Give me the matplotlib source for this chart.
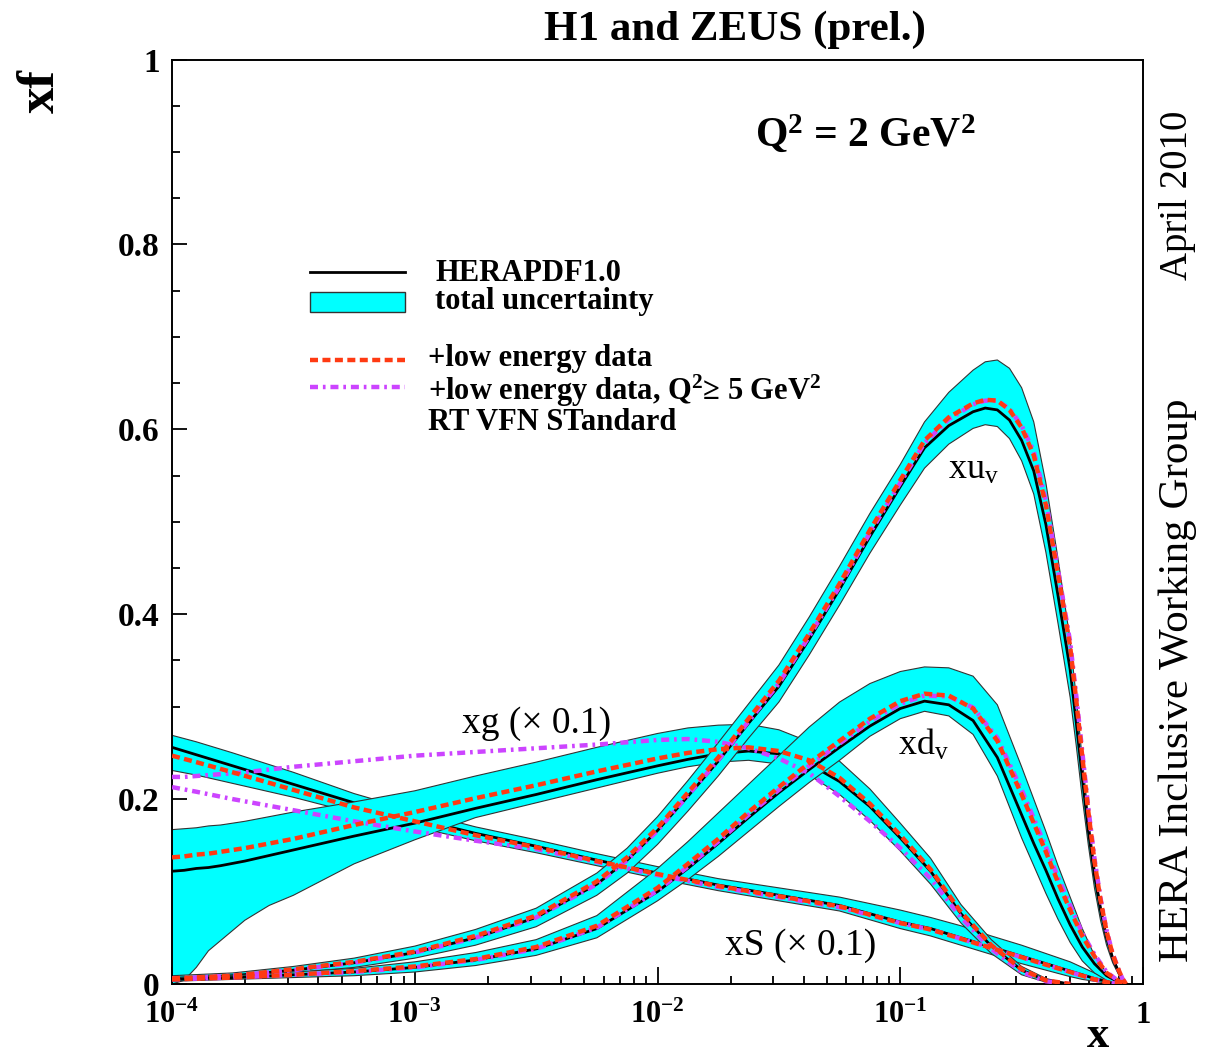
import numpy as np
import matplotlib
matplotlib.use("Agg")
import matplotlib.pyplot as plt
from matplotlib.lines import Line2D
from matplotlib.patches import Rectangle
from matplotlib.ticker import FixedLocator, LogLocator, NullFormatter

plt.rcParams['font.family'] = ['Liberation Serif', 'DejaVu Serif']
plt.rcParams['mathtext.fontset'] = 'custom'
plt.rcParams['mathtext.rm'] = 'Liberation Serif'
plt.rcParams['mathtext.it'] = 'Liberation Serif:italic'
plt.rcParams['mathtext.bf'] = 'Liberation Serif:bold'

# ---- data (log10 x and xf values) ----
# xu_v
uv_logx  = [-4, -3.75, -3.5, -3.25, -3, -2.75, -2.5, -2.25, -2.125, -2, -1.875, -1.75, -1.625,
            -1.5, -1.375, -1.25, -1.125, -1, -0.9, -0.8, -0.7, -0.65, -0.6, -0.55, -0.5, -0.45,
            -0.4, -0.35, -0.3, -0.275, -0.25, -0.225, -0.2, -0.175, -0.15, -0.125, -0.1, -0.085, -0.07]
uv_cent  = [0.006, 0.009, 0.015, 0.023, 0.034, 0.050, 0.072, 0.108, 0.134, 0.166, 0.203, 0.241, 0.282,
            0.322, 0.373, 0.427, 0.484, 0.538, 0.580, 0.604, 0.619, 0.623, 0.621, 0.610, 0.588, 0.555,
            0.497, 0.420, 0.340, 0.283, 0.223, 0.166, 0.118, 0.080, 0.050, 0.028, 0.013, 0.005, 0.0]
uv_up    = [0.009, 0.012, 0.019, 0.028, 0.041, 0.059, 0.082, 0.120, 0.147, 0.181, 0.220, 0.261, 0.303,
            0.345, 0.397, 0.452, 0.509, 0.562, 0.608, 0.640, 0.664, 0.673, 0.675, 0.666, 0.645, 0.608,
            0.542, 0.460, 0.372, 0.310, 0.243, 0.181, 0.128, 0.087, 0.054, 0.030, 0.014, 0.006, 0.0]
uv_lo    = [0.004, 0.007, 0.012, 0.018, 0.028, 0.042, 0.062, 0.096, 0.120, 0.151, 0.187, 0.225, 0.266,
            0.305, 0.356, 0.410, 0.466, 0.518, 0.558, 0.584, 0.601, 0.605, 0.603, 0.590, 0.566, 0.530,
            0.467, 0.390, 0.310, 0.258, 0.201, 0.150, 0.104, 0.069, 0.042, 0.023, 0.010, 0.003, 0.0]
uv_low_e = [0.006, 0.009, 0.016, 0.024, 0.035, 0.052, 0.074, 0.111, 0.137, 0.169, 0.207, 0.245, 0.287,
            0.328, 0.379, 0.433, 0.491, 0.545, 0.588, 0.613, 0.628, 0.632, 0.631, 0.621, 0.602, 0.572,
            0.518, 0.443, 0.365, 0.307, 0.246, 0.186, 0.133, 0.091, 0.057, 0.032, 0.015, 0.006, 0.0]
uv_q5    = [0.006, 0.009, 0.015, 0.023, 0.034, 0.050, 0.072, 0.108, 0.134, 0.166, 0.204, 0.242, 0.284,
            0.325, 0.376, 0.430, 0.488, 0.542, 0.585, 0.611, 0.627, 0.631, 0.631, 0.622, 0.604, 0.576,
            0.523, 0.448, 0.370, 0.312, 0.251, 0.190, 0.136, 0.093, 0.058, 0.033, 0.015, 0.006, 0.0]

# xd_v
dv_logx  = [-4, -3.75, -3.5, -3.25, -3, -2.75, -2.5, -2.25, -2, -1.875, -1.75, -1.625, -1.5, -1.375,
            -1.25, -1.125, -1, -0.9, -0.8, -0.7, -0.6, -0.5, -0.45, -0.4, -0.35, -0.3, -0.25, -0.2,
            -0.15, -0.1, -0.07]
dv_cent  = [0.005, 0.007, 0.010, 0.013, 0.018, 0.026, 0.038, 0.060, 0.100, 0.125, 0.152, 0.180, 0.207, 0.232,
            0.256, 0.279, 0.298, 0.306, 0.302, 0.285, 0.245, 0.183, 0.152, 0.123, 0.092, 0.064, 0.040, 0.022,
            0.009, 0.002, 0.0]
dv_up    = [0.007, 0.009, 0.013, 0.017, 0.024, 0.034, 0.048, 0.074, 0.125, 0.154, 0.185, 0.216, 0.247, 0.278,
            0.305, 0.325, 0.338, 0.343, 0.342, 0.333, 0.302, 0.235, 0.200, 0.165, 0.128, 0.094, 0.060, 0.031,
            0.012, 0.003, 0.0]
dv_lo    = [0.003, 0.005, 0.007, 0.009, 0.013, 0.020, 0.031, 0.050, 0.090, 0.113, 0.138, 0.165, 0.192, 0.218,
            0.242, 0.268, 0.287, 0.295, 0.290, 0.270, 0.225, 0.158, 0.128, 0.098, 0.070, 0.045, 0.025, 0.012,
            0.004, 0.0, 0.0]
dv_low_e = [0.005, 0.007, 0.010, 0.014, 0.019, 0.027, 0.040, 0.063, 0.104, 0.130, 0.157, 0.186, 0.213, 0.239,
            0.263, 0.287, 0.306, 0.314, 0.312, 0.298, 0.263, 0.205, 0.174, 0.143, 0.110, 0.080, 0.052, 0.030,
            0.012, 0.003, 0.0]
dv_q5    = [0.005, 0.007, 0.010, 0.013, 0.018, 0.026, 0.038, 0.061, 0.101, 0.127, 0.154, 0.183, 0.210, 0.236,
            0.260, 0.284, 0.303, 0.312, 0.311, 0.299, 0.266, 0.210, 0.179, 0.148, 0.115, 0.085, 0.055, 0.032,
            0.013, 0.003, 0.0]

# xg (x 0.1)
g_logx   = [-4, -3.95, -3.9, -3.85, -3.8, -3.7, -3.6, -3.5, -3.25, -3, -2.75, -2.5, -2.25, -2, -1.875,
            -1.75, -1.625, -1.5, -1.375, -1.25, -1.125, -1, -0.875, -0.75, -0.625, -0.5, -0.4, -0.3]
g_cent   = [0.122, 0.123, 0.125, 0.126, 0.128, 0.133, 0.139, 0.145, 0.160, 0.174, 0.190, 0.205, 0.221, 0.236, 0.243,
            0.249, 0.252, 0.249, 0.238, 0.219, 0.192, 0.158, 0.122, 0.076, 0.041, 0.015, 0.004, 0.0]
g_up     = [0.167, 0.168, 0.169, 0.171, 0.172, 0.176, 0.181, 0.186, 0.197, 0.209, 0.225, 0.240, 0.256, 0.271, 0.277,
            0.280, 0.281, 0.275, 0.262, 0.241, 0.211, 0.174, 0.136, 0.086, 0.048, 0.019, 0.006, 0.0]
g_lo     = [0.0, 0.004, 0.018, 0.036, 0.047, 0.069, 0.085, 0.096, 0.130, 0.156, 0.180, 0.196, 0.212, 0.228, 0.235,
            0.240, 0.242, 0.238, 0.226, 0.205, 0.177, 0.144, 0.108, 0.066, 0.033, 0.010, 0.002, 0.0]
g_low_e  = [0.137, 0.138, 0.140, 0.141, 0.143, 0.147, 0.152, 0.157, 0.172, 0.186, 0.201, 0.215, 0.230, 0.244, 0.250,
            0.254, 0.256, 0.252, 0.242, 0.223, 0.195, 0.161, 0.124, 0.078, 0.042, 0.016, 0.004, 0.0]
g_q5     = [0.224, 0.224, 0.225, 0.226, 0.227, 0.229, 0.232, 0.235, 0.241, 0.247, 0.251, 0.255, 0.259, 0.264, 0.265,
            0.262, 0.255, 0.244, 0.228, 0.203, 0.176, 0.147, 0.114, 0.072, 0.038, 0.013, 0.003, 0.0]

# xS (x 0.1)
s_logx   = [-4, -3.9, -3.75, -3.5, -3.25, -3, -2.75, -2.5, -2.25, -2, -1.75, -1.5, -1.25, -1, -0.875,
            -0.75, -0.625, -0.5, -0.4, -0.3, -0.25, -0.2, -0.15, -0.1]
s_cent   = [0.256, 0.248, 0.236, 0.216, 0.196, 0.179, 0.163, 0.149, 0.134, 0.120, 0.107, 0.096, 0.085, 0.067, 0.060,
            0.050, 0.040, 0.030, 0.022, 0.014, 0.010, 0.006, 0.003, 0.0]
s_up     = [0.269, 0.262, 0.250, 0.229, 0.206, 0.187, 0.170, 0.156, 0.141, 0.127, 0.114, 0.104, 0.094, 0.080, 0.072,
            0.063, 0.052, 0.042, 0.033, 0.024, 0.018, 0.012, 0.006, 0.001]
s_lo     = [0.231, 0.226, 0.217, 0.202, 0.185, 0.170, 0.155, 0.142, 0.128, 0.114, 0.101, 0.090, 0.079, 0.060, 0.052,
            0.042, 0.032, 0.022, 0.015, 0.008, 0.005, 0.003, 0.001, 0.0]
s_low_e  = [0.247, 0.240, 0.229, 0.210, 0.191, 0.176, 0.161, 0.148, 0.133, 0.119, 0.106, 0.095, 0.084, 0.066, 0.059,
            0.049, 0.039, 0.029, 0.021, 0.013, 0.009, 0.005, 0.002, 0.0]
s_q5     = [0.213, 0.208, 0.200, 0.188, 0.176, 0.165, 0.155, 0.146, 0.132, 0.118, 0.105, 0.094, 0.083, 0.066, 0.059,
            0.049, 0.039, 0.029, 0.021, 0.013, 0.009, 0.005, 0.002, 0.0]

y_ticks       = [0, 0.2, 0.4, 0.6, 0.8, 1.0]
y_tick_labels = ['0', '0.2', '0.4', '0.6', '0.8', '1']
x_ticks       = [1e-4, 1e-3, 1e-2, 1e-1, 1]
x_tick_labels = [r'$\mathbf{10^{-4}}$', r'$\mathbf{10^{-3}}$', r'$\mathbf{10^{-2}}$',
                 r'$\mathbf{10^{-1}}$', r'$\mathbf{1}$']

CYAN = '#00ffff'
RED = '#ff3a12'
MAG = '#cc44ff'
red_ls = (0, (1.8, 1.0))
mag_ls = (0, (1.8, 1.1, 0.6, 1.1))

fig = plt.figure(figsize=(12.09, 10.59), dpi=100)
ax = fig.add_axes([0.1423, 0.0708, 0.8031, 0.8730])


def draw_band(logx, cent, up, lo):
    x = 10.0 ** np.array(logx)
    ax.fill_between(x, lo, up, facecolor=CYAN, edgecolor='none', zorder=2)
    ax.plot(x, up, color='#333333', lw=0.8, zorder=2)
    ax.plot(x, lo, color='#333333', lw=0.8, zorder=2)
    ax.plot(x, cent, color='black', lw=2.0, zorder=2)


def draw_alt(logx, low_e, q5):
    x = 10.0 ** np.array(logx)
    ax.plot(x, low_e, color=RED, lw=3.2, ls=red_ls, zorder=4)
    ax.plot(x, q5, color=MAG, lw=3.2, ls=mag_ls, zorder=3)


# bands and central fits, then the alternative fits on top
draw_band(s_logx, s_cent, s_up, s_lo)
draw_band(g_logx, g_cent, g_up, g_lo)
draw_band(uv_logx, uv_cent, uv_up, uv_lo)
draw_band(dv_logx, dv_cent, dv_up, dv_lo)

draw_alt(s_logx, s_low_e, s_q5)
draw_alt(g_logx, g_low_e, g_q5)
draw_alt(uv_logx, uv_low_e, uv_q5)
draw_alt(dv_logx, dv_low_e, dv_q5)

ax.set_xscale('log')
ax.set_xlim(1e-4, 1)
ax.set_ylim(0, 1)

ax.xaxis.set_major_locator(FixedLocator(x_ticks))
ax.set_xticklabels(x_tick_labels)
ax.xaxis.set_minor_locator(LogLocator(base=10, subs=np.arange(2, 10)))
ax.xaxis.set_minor_formatter(NullFormatter())
ax.set_yticks(y_ticks)
ax.set_yticklabels(y_tick_labels)
ax.yaxis.set_minor_locator(FixedLocator(np.arange(0, 1.001, 0.05)))

ax.tick_params(which='both', direction='in', top=False, right=False, width=1.3)
ax.tick_params(axis='x', which='major', length=12, pad=12, labelsize=22)
ax.tick_params(axis='x', which='minor', length=6)
ax.tick_params(axis='y', which='major', length=11, pad=9, labelsize=24)
ax.tick_params(axis='y', which='minor', length=6)
for lab in ax.get_yticklabels():
    lab.set_fontweight('bold')
for sp in ax.spines.values():
    sp.set_linewidth(1.4)

# curve labels
ax.text(0.799, 0.556, r'xu$_\mathrm{v}$', transform=ax.transAxes, fontsize=26, va='center')
ax.text(0.748, 0.258, r'xd$_\mathrm{v}$', transform=ax.transAxes, fontsize=26, va='center')
ax.text(0.299, 0.282, 'xg (\u00d7 0.1)', transform=ax.transAxes, fontsize=27, va='center')
ax.text(0.569, 0.042, 'xS (\u00d7 0.1)', transform=ax.transAxes, fontsize=27, va='center')
ax.text(0.714, 0.918, r'Q$^\mathbf{2}$ = 2 GeV$^\mathbf{2}$', transform=ax.transAxes,
        fontsize=30, fontweight='bold', ha='center', va='center')

# hand-made legend
tr = ax.transAxes
ax.add_line(Line2D([0.142, 0.240], [0.770, 0.770], color='black', lw=2.0, transform=tr))
ax.add_patch(Rectangle((0.142, 0.727), 0.098, 0.022, facecolor=CYAN, edgecolor='#333333',
                       lw=1.0, transform=tr))
ax.add_line(Line2D([0.142, 0.240], [0.675, 0.675], color=RED, lw=3.2, ls=red_ls, transform=tr))
ax.add_line(Line2D([0.142, 0.240], [0.646, 0.646], color=MAG, lw=3.2, ls=mag_ls, transform=tr))
leg_kw = dict(transform=tr, fontsize=22, fontweight='bold', va='center')
ax.text(0.271, 0.769, 'HERAPDF1.0', **leg_kw)
ax.text(0.271, 0.738, 'total uncertainty', **leg_kw)
ax.text(0.264, 0.677, '+low energy data', **leg_kw)
ax.text(0.264, 0.642, '+low energy data, Q$^\\mathbf{2}$\u2265 5 GeV$^\\mathbf{2}$', **leg_kw)
ax.text(0.264, 0.607, 'RT VFN STandard', **leg_kw)

# titles around the frame
fig.text(0.608, 0.972, 'H1 and ZEUS (prel.)', fontsize=31, fontweight='bold', ha='center', va='center')
fig.text(0.034, 0.914, 'xf', fontsize=38, fontweight='bold', rotation=90, ha='center', va='center')
fig.text(0.908, 0.022, 'x', fontsize=32, fontweight='bold', ha='center', va='center')
fig.text(0.974, 0.816, 'April 2010', fontsize=28, rotation=90, ha='center', va='center')
fig.text(0.974, 0.358, 'HERA Inclusive Working Group', fontsize=31, rotation=90, ha='center', va='center')

fig.savefig('out.png', dpi=100)
